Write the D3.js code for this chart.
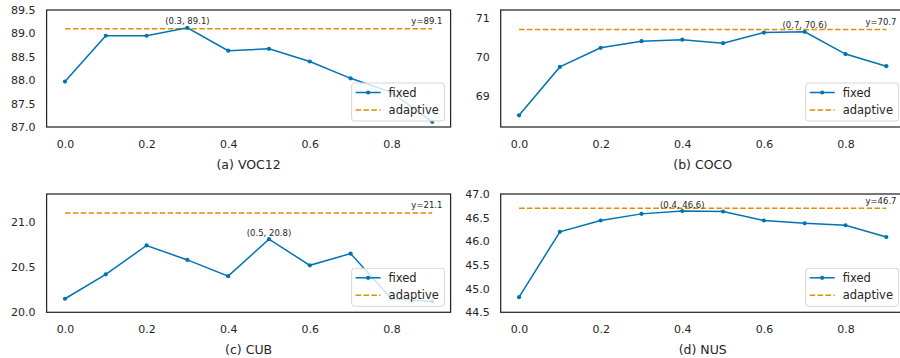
<!DOCTYPE html>
<html lang="en">
<head>
    <meta charset="UTF-8">
    <title>Fixed vs adaptive</title>
    <script src="https://d3js.org/d3.v7.min.js"></script>
    <style>
        body { margin: 0; background: #fff; }
        text { font-family: "DejaVu Sans", sans-serif; fill: #262626; }
    </style>
</head>
<body>
    <svg id="chart" width="900" height="358"></svg>
    <script>
        const alphas = [0.0, 0.1, 0.2, 0.3, 0.4, 0.5, 0.6, 0.7, 0.8, 0.9];
        const voc12Fixed = [87.97, 88.95, 88.95, 89.12, 88.63, 88.67, 88.40, 88.04, 87.74, 87.11];
        const cocoFixed = [68.50, 69.74, 70.23, 70.40, 70.44, 70.35, 70.62, 70.64, 70.07, 69.76];
        const cubFixed = [20.15, 20.42, 20.74, 20.58, 20.40, 20.81, 20.52, 20.65, 20.15, 20.12];
        const nusFixed = [44.82, 46.20, 46.44, 46.58, 46.64, 46.63, 46.44, 46.38, 46.34, 46.09];
        const adaptiveValues = [89.1, 70.7, 21.1, 46.7];
        const titles = ["(a) VOC12", "(b) COCO", "(c) CUB", "(d) NUS"];
        const xTicks = [0.0, 0.2, 0.4, 0.6, 0.8];
        const yTicks = [
            [87.0, 87.5, 88.0, 88.5, 89.0, 89.5],
            [69, 70, 71],
            [20.0, 20.5, 21.0],
            [44.5, 45.0, 45.5, 46.0, 46.5, 47.0]
        ];
        const yLimits = [[87.0, 89.5], [68.2, 71.2], [20.0, 21.31], [44.5, 47.0]];
        const yDecimals = [1, 0, 1, 1];
        const seriesNames = ["fixed", "adaptive"];

        const fixedSeries = [voc12Fixed, cocoFixed, cubFixed, nusFixed];
        const blue = "#0173b2", orange = "#de8f05";

        const svg = d3.select("#chart");
        const panelW = 404;
        const lefts = [46.6, 500.7];
        const tops = [10, 194];
        const heights = [117, 118.3];

        const x = d3.scaleLinear().domain([-0.045, 0.945]).range([0, panelW]);

        fixedSeries.forEach((values, i) => {
            const col = i % 2, row = Math.floor(i / 2);
            const h = heights[row];
            const g = svg.append("g")
                .attr("transform", `translate(${lefts[col]},${tops[row]})`);
            const y = d3.scaleLinear().domain(yLimits[i]).range([h, 0]);

            // x ticks (no tick marks, seaborn white style)
            const xAxis = g.append("g")
                .attr("transform", `translate(0,${h})`)
                .call(d3.axisBottom(x).tickValues(xTicks).tickSize(0).tickPadding(13)
                    .tickFormat(d3.format(".1f")));
            xAxis.select(".domain").remove();
            xAxis.selectAll("text").style("font-size", "11px").attr("fill", "#262626");

            const yAxis = g.append("g")
                .call(d3.axisLeft(y).tickValues(yTicks[i]).tickSize(0).tickPadding(11)
                    .tickFormat(d3.format(`.${yDecimals[i]}f`)));
            yAxis.select(".domain").remove();
            yAxis.selectAll("text").style("font-size", "11px").attr("fill", "#262626");

            g.append("text")
                .attr("x", panelW / 2)
                .attr("y", h + 41.5)
                .attr("text-anchor", "middle")
                .style("font-size", "12.5px")
                .text(titles[i]);

            // adaptive line
            const ad = adaptiveValues[i];
            g.append("line")
                .attr("x1", x(alphas[0])).attr("x2", x(alphas[alphas.length - 1]))
                .attr("y1", y(ad)).attr("y2", y(ad))
                .attr("stroke", orange).attr("stroke-width", 1.5)
                .attr("stroke-dasharray", "5.5,2.4");

            g.append("text")
                .attr("x", x(0.925))
                .attr("y", y(ad) - 4.5)
                .attr("text-anchor", "end")
                .style("font-size", "8.5px")
                .text(`y=${ad}`);

            // fixed line
            const line = d3.line().x((d, j) => x(alphas[j])).y(d => y(d));
            g.append("path")
                .datum(values)
                .attr("d", line)
                .attr("fill", "none")
                .attr("stroke", blue)
                .attr("stroke-width", 1.5);

            g.selectAll(".pt")
                .data(values)
                .enter()
                .append("circle")
                    .attr("cx", (d, j) => x(alphas[j]))
                    .attr("cy", d => y(d))
                    .attr("r", 2.1)
                    .attr("fill", blue);

            // annotate the best fixed value
            const best = d3.maxIndex(values);
            g.append("text")
                .attr("x", x(alphas[best]))
                .attr("y", y(values[best]) - 3.5)
                .attr("text-anchor", "middle")
                .style("font-size", "8.5px")
                .text(`(${alphas[best].toFixed(1)}, ${values[best].toFixed(1)})`);

            // frame
            g.append("rect")
                .attr("width", panelW).attr("height", h)
                .attr("fill", "none")
                .attr("stroke", "#262626").attr("stroke-width", 1.25);

            // legend
            const lw = 93, lh = 38;
            const lg = g.append("g")
                .attr("transform", `translate(${panelW - 6 - lw},${h - 6 - lh})`);
            lg.append("rect")
                .attr("width", lw).attr("height", lh)
                .attr("rx", 3)
                .attr("fill", "rgba(255,255,255,0.8)")
                .attr("stroke", "#d6d6d6").attr("stroke-width", 1);
            seriesNames.forEach((name, k) => {
                const ly = 9.5 + k * 17.5;
                lg.append("line")
                    .attr("x1", 4).attr("x2", 29)
                    .attr("y1", ly).attr("y2", ly)
                    .attr("stroke", k === 0 ? blue : orange)
                    .attr("stroke-width", 1.5)
                    .attr("stroke-dasharray", k === 0 ? null : "5.5,2.4");
                if (k === 0) {
                    lg.append("circle").attr("cx", 16.5).attr("cy", ly).attr("r", 2.1).attr("fill", blue);
                }
                lg.append("text")
                    .attr("x", 37).attr("y", ly)
                    .attr("dy", "0.36em")
                    .style("font-size", "11.5px")
                    .text(name);
            });
        });
    </script>
</body>
</html>
